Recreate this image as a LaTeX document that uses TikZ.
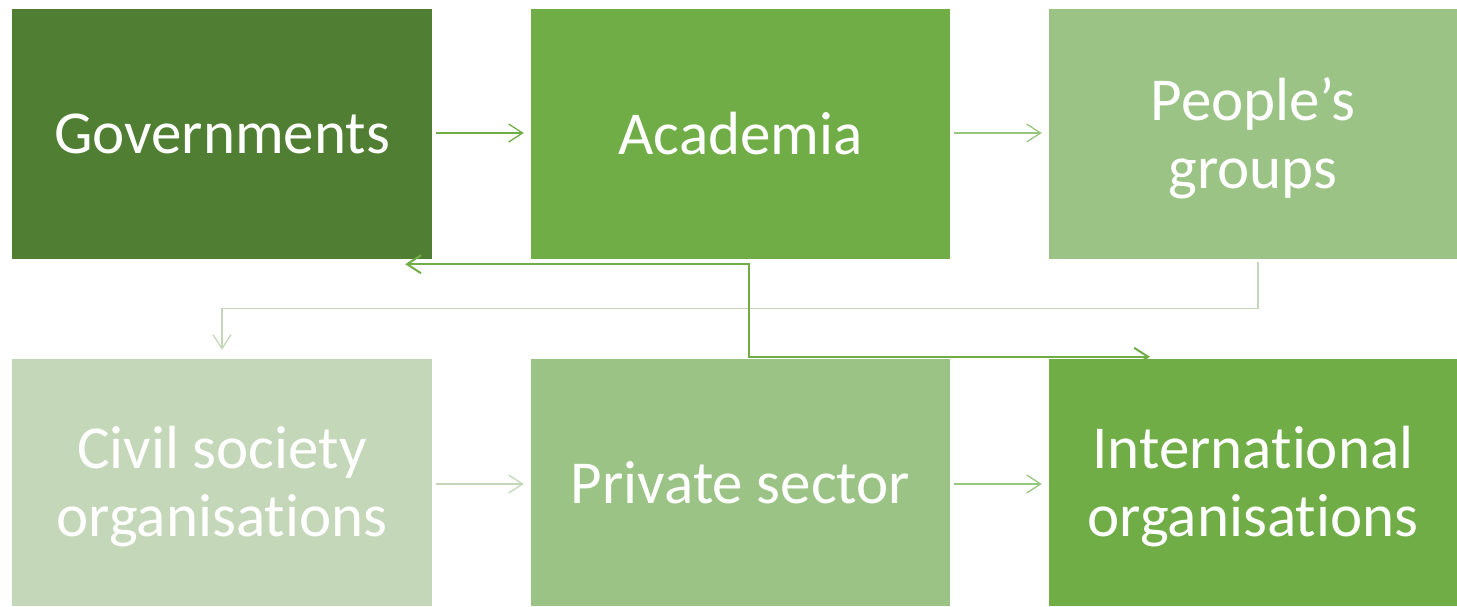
\documentclass[tikz,border=0pt]{standalone}
\usepackage{fontspec}
\setmainfont[Ligatures=NoCommon]{Carlito}
\usetikzlibrary{arrows.meta}
\definecolor{gDark}{HTML}{507E32}
\definecolor{gMid}{HTML}{70AD47}
\definecolor{gLight}{HTML}{9BC385}
\definecolor{gPale}{HTML}{C4D8B9}
\definecolor{gArrowB}{HTML}{97C67F}
\tikzset{
  boxtext/.style={inner sep=0pt, text=white, align=center,
    font=\fontsize{61}{68}\selectfont},
  box/.style={draw=none, inner sep=0pt, boxtext},
  twoline/.style={box, label={[boxtext, yshift=-4pt]center:#1}},
  flow/.style={line width=1.3pt, -{Straight Barb[length=14pt,width=18pt,line width=1.3pt]}},
  loop/.style={line width=2pt, gMid,
    {Straight Barb[length=14pt,width=18pt,line width=2pt]}-{Straight Barb[length=14pt,width=18pt,line width=2pt]}}
}
\begin{document}
\begin{tikzpicture}[x=1pt,y=-1pt]
\useasboundingbox (0,0) rectangle (1457,606);
% top row
\node[box, fill=gDark, minimum width=420pt, minimum height=250pt] (gov) at (222,134) {Governments};
\node[box, fill=gMid, minimum width=419pt, minimum height=250pt] (acad) at (740.5,134) {Academia};
\node[twoline={People’s\\groups}, fill=gLight, minimum width=408pt, minimum height=250pt] (ppl) at (1253,134) {};
% bottom row
\node[twoline={Civil society\\organisations}, fill=gPale, minimum width=420pt, minimum height=247pt] (civ) at (222,482.5) {};
\node[box, fill=gLight, minimum width=419pt, minimum height=247pt] (priv) at (740.5,482.5) {Private sector};
\node[twoline={International\\organisations}, fill=gMid, minimum width=408pt, minimum height=247pt] (intl) at (1253,482.5) {};
% horizontal flows
\draw[flow, gMid] ([shift={(4,-1)}]gov.east) -- ([shift={(-7,-1)}]acad.west);
\draw[flow, gArrowB] ([shift={(4,-1)}]acad.east) -- ([shift={(-7,-1)}]ppl.west);
\draw[flow, gPale] ([shift={(4,1.5)}]civ.east) -- ([shift={(-7,1.5)}]priv.west);
\draw[flow, gArrowB] ([shift={(4,1.5)}]priv.east) -- ([shift={(-7,1.5)}]intl.west);
% wrap from the top row to the bottom row
\draw[flow, gPale] ([shift={(5,3)}]ppl.south) -- ++(0,46) -| ([shift={(0,-9)}]civ.north);
% link between governments and international organisations
\draw[loop] ([shift={(-27,5)}]gov.south east) -- ([shift={(8,5)}]acad.south) |- ([shift={(-103,-2)}]intl.north);
\end{tikzpicture}
\end{document}
